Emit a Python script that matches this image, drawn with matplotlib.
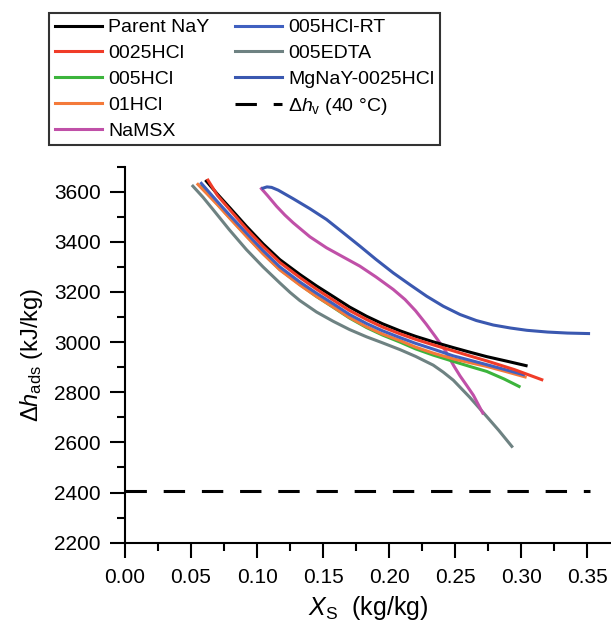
import matplotlib
matplotlib.use("Agg")
import matplotlib.pyplot as plt
from matplotlib.ticker import MultipleLocator

# ----------------------------
# Data
# ----------------------------
parent_x = [0.0616, 0.070, 0.080, 0.0919, 0.1045, 0.1172, 0.1323, 0.145, 0.1576, 0.170, 0.1829,
            0.195, 0.2082, 0.220, 0.2334, 0.2486, 0.261, 0.2739, 0.289, 0.3037]
parent_y = [3642, 3590, 3532, 3462, 3392, 3329, 3270, 3224, 3182, 3140, 3103,
            3073, 3045, 3023, 3001, 2978, 2960, 2942, 2924, 2906]

hcl0025_x = [0.0628, 0.070, 0.080, 0.0919, 0.1045, 0.1172, 0.1323, 0.145, 0.1576, 0.170, 0.1829,
             0.195, 0.2082, 0.220, 0.2334, 0.2486, 0.261, 0.2739, 0.295, 0.3156]
hcl0025_y = [3646, 3585, 3524, 3452, 3382, 3318, 3258, 3211, 3168, 3126, 3090,
             3060, 3033, 3011, 2989, 2965, 2945, 2925, 2890, 2850]

hcl005_x = [0.0580, 0.070, 0.080, 0.0919, 0.1045, 0.1172, 0.1323, 0.145, 0.1576, 0.170, 0.1829,
            0.195, 0.2082, 0.220, 0.2334, 0.2486, 0.261, 0.2739, 0.287, 0.2984]
hcl005_y = [3622, 3550, 3492, 3425, 3354, 3290, 3230, 3182, 3139, 3096, 3058,
            3028, 3000, 2973, 2948, 2923, 2903, 2883, 2853, 2823]

hcl01_x = [0.0552, 0.070, 0.080, 0.0919, 0.1045, 0.1172, 0.1323, 0.145, 0.1576, 0.170, 0.1829,
           0.195, 0.2082, 0.220, 0.2334, 0.2486, 0.261, 0.2739, 0.288, 0.3030]
hcl01_y = [3629, 3548, 3490, 3422, 3352, 3288, 3228, 3182, 3140, 3098, 3061,
           3032, 3006, 2980, 2956, 2933, 2918, 2903, 2883, 2861]

namsx_x = [0.1033, 0.108, 0.1147, 0.121, 0.1273, 0.140, 0.1526, 0.165, 0.1778, 0.190, 0.2031,
           0.212, 0.220, 0.228, 0.235, 0.2423, 0.249, 0.2537, 0.259, 0.2638, 0.2709]
namsx_y = [3612, 3584, 3542, 3507, 3476, 3420, 3376, 3340, 3303, 3260, 3210,
           3170, 3125, 3072, 3022, 2968, 2905, 2865, 2825, 2788, 2717]

hcl005rt_x = [0.0578, 0.070, 0.080, 0.0919, 0.1045, 0.1172, 0.1323, 0.145, 0.1576, 0.170, 0.1829,
              0.195, 0.2082, 0.220, 0.2334, 0.2486, 0.261, 0.2739, 0.288, 0.3017]
hcl005rt_y = [3633, 3560, 3502, 3435, 3365, 3300, 3240, 3195, 3153, 3110, 3074,
              3045, 3018, 2995, 2972, 2945, 2928, 2910, 2890, 2870]

edta_x = [0.0514, 0.059, 0.0666, 0.079, 0.0919, 0.1045, 0.1172, 0.125, 0.1323, 0.145, 0.1576,
          0.170, 0.1829, 0.195, 0.2082, 0.220, 0.2334, 0.241, 0.2486, 0.261, 0.2739, 0.283, 0.2929]
edta_y = [3622, 3578, 3529, 3448, 3369, 3300, 3236, 3198, 3166, 3120, 3083,
          3050, 3021, 2997, 2970, 2943, 2908, 2880, 2848, 2780, 2703, 2648, 2584]

mgnay_x = [0.1045, 0.1075, 0.111, 0.116, 0.1273, 0.140, 0.1526, 0.165, 0.1778, 0.190, 0.2031, 0.216,
           0.2284, 0.241, 0.2537, 0.266, 0.2789, 0.292, 0.3043, 0.320, 0.335, 0.351]
mgnay_y = [3614, 3619, 3617, 3606, 3572, 3532, 3489, 3437, 3383, 3330, 3276, 3228,
           3183, 3143, 3110, 3086, 3068, 3056, 3047, 3040, 3036, 3034]

hv_x = [0.0, 0.352]
hv_y = [2405, 2405]

series = [
    ("Parent NaY", parent_x, parent_y, "#000000"),
    ("0025HCl", hcl0025_x, hcl0025_y, "#f03c28"),
    ("005HCl", hcl005_x, hcl005_y, "#3cb43c"),
    ("01HCl", hcl01_x, hcl01_y, "#f47a3a"),
    ("NaMSX", namsx_x, namsx_y, "#c050a8"),
    ("005HCl-RT", hcl005rt_x, hcl005rt_y, "#4060c0"),
    ("005EDTA", edta_x, edta_y, "#6e8282"),
    ("MgNaY-0025HCl", mgnay_x, mgnay_y, "#3a58b0"),
]

# ----------------------------
# Style
# ----------------------------
plt.rcParams['font.family'] = ['Liberation Sans', 'DejaVu Sans']
plt.rcParams['mathtext.fontset'] = 'custom'
plt.rcParams['mathtext.rm'] = 'Liberation Sans'
plt.rcParams['mathtext.it'] = 'Liberation Sans:italic'

fig = plt.figure(figsize=(6.11, 6.31), dpi=100)
ax = fig.add_axes([0.2046, 0.14, 0.7954, 0.596])

# draw order: black / red end up on top of the bundle
draw_order = [6, 4, 7, 2, 3, 5, 0, 1]
handles = {}
for i in draw_order:
    name, xs, ys, col = series[i]
    ln, = ax.plot(xs, ys, color=col, lw=2.2, solid_joinstyle='round', label=name)
    handles[i] = ln
hv_line, = ax.plot(hv_x, hv_y, color='black', lw=2.2, dashes=(7, 5.5),
                   label=r'$\Delta h_\mathrm{v}$ (40 °C)')

ax.set_xlim(0, 0.368)
ax.set_ylim(2200, 3700)
ax.xaxis.set_minor_locator(MultipleLocator(0.025))
ax.yaxis.set_major_locator(MultipleLocator(200))
ax.yaxis.set_minor_locator(MultipleLocator(100))
ax.set_xticks([0, 0.05, 0.10, 0.15, 0.20, 0.25, 0.30, 0.35])
ax.set_xticklabels(["0.00", "0.05", "0.10", "0.15", "0.20", "0.25", "0.30", "0.35"])

for s in ['top', 'right']:
    ax.spines[s].set_visible(False)
for s in ['left', 'bottom']:
    ax.spines[s].set_linewidth(1.5)

ax.tick_params(which='major', length=10.5, width=1.5, labelsize=15, direction='out')
ax.tick_params(which='minor', length=5.5, width=1.5, direction='out')
ax.tick_params(axis='y', pad=7)
ax.tick_params(axis='x', pad=8)

ax.set_xlabel(r'$X_\mathrm{S}$  (kg/kg)', fontsize=18, labelpad=5)
ax.set_ylabel(r'$\Delta h_\mathrm{ads}$ (kJ/kg)', fontsize=17, labelpad=6)

# ----------------------------
# Legend (two columns, framed)
# ----------------------------
leg_handles = [handles[i] for i in range(8)] + [hv_line]
leg = fig.legend(leg_handles, [h.get_label() for h in leg_handles],
                 ncol=2, loc='upper left', bbox_to_anchor=(49 / 611, 1 - 13 / 631),
                 fontsize=14, frameon=True, fancybox=False, handlelength=2.4,
                 handletextpad=0.35, columnspacing=1.3, labelspacing=0.42,
                 borderpad=0.3, borderaxespad=0)
leg.get_frame().set_edgecolor('black')
leg.get_frame().set_linewidth(1.5)

fig.savefig("out.png", dpi=100)
